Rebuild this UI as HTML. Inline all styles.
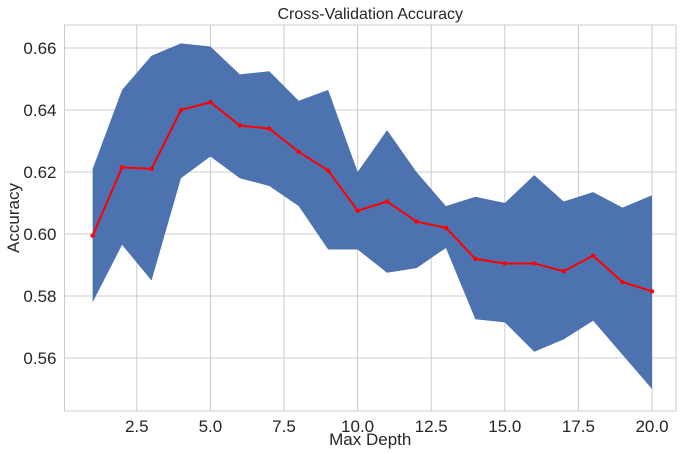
<!DOCTYPE html>
<html><head><meta charset="utf-8"><style>
html,body{margin:0;padding:0;background:#fff;}
svg{display:block;font-family:"Liberation Sans",Arial,sans-serif;}
</style></head><body>
<svg id="chart" width="685" height="454"></svg>
<script>
const depths=[1,2,3,4,5,6,7,8,9,10,11,12,13,14,15,16,17,18,19,20];
const meanAcc=[0.5995,0.6215,0.621,0.640,0.6425,0.635,0.634,0.6265,0.6205,0.6075,0.6105,0.604,0.602,0.592,0.5905,0.5905,0.588,0.593,0.5845,0.5815];
const upperAcc=[0.621,0.6465,0.6575,0.6615,0.6605,0.6515,0.6525,0.643,0.6465,0.620,0.6335,0.620,0.609,0.612,0.610,0.619,0.6105,0.6135,0.6085,0.6125];
const lowerAcc=[0.578,0.5965,0.585,0.618,0.625,0.618,0.6155,0.609,0.595,0.595,0.5875,0.589,0.5955,0.5725,0.5715,0.562,0.566,0.572,0.561,0.550];
const xTicks=[2.5,5.0,7.5,10.0,12.5,15.0,17.5,20.0];
const yTicks=[0.56,0.58,0.60,0.62,0.64,0.66];

const NS="http://www.w3.org/2000/svg";
const svg=document.getElementById('chart');
const L=64.5,R=676,T=25,B=411;
const xs=v=>136.8+(v-2.5)*29.44;
const ys=v=>234-(v-0.60)*3100;
function mk(tag,attrs,parent){const e=document.createElementNS(NS,tag);for(const k in attrs)e.setAttribute(k,attrs[k]);(parent||svg).appendChild(e);return e;}

const bg=mk('rect',{x:L,y:T,width:R-L,height:B-T,fill:'#fff'});



xTicks.forEach(t=>{
  const g=mk('line',{x1:xs(t),x2:xs(t),y1:T,y2:B,stroke:'#cccccc','stroke-width':1});
  
  
  const lb=mk('text',{x:xs(t),y:B+21,'text-anchor':'middle','font-size':17,fill:'#262626'});
  lb.textContent=t.toFixed(1);
  
  
});
yTicks.forEach(t=>{
  const g=mk('line',{x1:L,x2:R,y1:ys(t),y2:ys(t),stroke:'#cccccc','stroke-width':1});
  
  
  const lb=mk('text',{x:L-8,y:ys(t)+6,'text-anchor':'end','font-size':17,fill:'#262626'});
  lb.textContent=t.toFixed(2);
  
  
});

let d='';
depths.forEach((x,i)=>{d+=(i?'L':'M')+xs(x)+','+ys(upperAcc[i]);});
for(let i=depths.length-1;i>=0;i--){d+='L'+xs(depths[i])+','+ys(lowerAcc[i]);}
const band=mk('path',{d:d+'Z',fill:'#4c72b0'});



const pts=depths.map((x,i)=>xs(x)+','+ys(meanAcc[i])).join(' ');
const line=mk('polyline',{points:pts,fill:'none',stroke:'#ff0000','stroke-width':2});


depths.forEach((x,i)=>{
  const c=mk('circle',{cx:xs(x),cy:ys(meanAcc[i]),r:2.2,fill:'#ff0000'});
  
  
});

const frame=mk('rect',{x:L,y:T,width:R-L,height:B-T,fill:'none',stroke:'#cccccc','stroke-width':1});



const title=mk('text',{x:(L+R)/2,y:19,'text-anchor':'middle','font-size':16,fill:'#262626'});
title.textContent='Cross-Validation Accuracy';


const xl=mk('text',{x:(L+R)/2,y:445,'text-anchor':'middle','font-size':17,fill:'#262626'});
xl.textContent='Max Depth';


const yl=mk('text',{x:0,y:0,'text-anchor':'middle','font-size':17,fill:'#262626',transform:'translate(19,'+((T+B)/2)+') rotate(-90)'});
yl.textContent='Accuracy';


</script>
</body></html>
